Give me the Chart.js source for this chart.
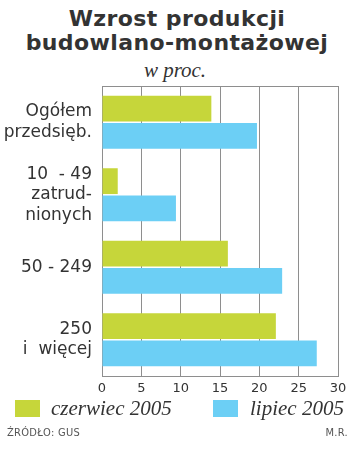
<!DOCTYPE html>
<html>
<head>
<meta charset="utf-8">
<script src="https://cdn.jsdelivr.net/npm/chart.js@4/dist/chart.umd.min.js"></script>
<style>
    body { margin: 0; background: #fff; }
    .wrap { position: relative; width: 350px; height: 457px; overflow: hidden; }
    .title { position: absolute; left: 2px; top: 7px; width: 350px; text-align: center;
        font-family: "DejaVu Sans", sans-serif; font-weight: bold; font-size: 22px; line-height: 24px;
        letter-spacing: 0.4px; color: #333; }
    .unit { position: absolute; left: 0; top: 58px; width: 350px; text-align: center;
        font-family: "Liberation Serif", serif; font-style: italic; font-size: 21px; color: #333; }
    #chart-box { position: absolute; left: 0; top: 80px; width: 350px; height: 320px; }
    .legend-box { position: absolute; width: 25px; height: 17px; top: 400px; }
    .legend-text { position: absolute; top: 396px; font-family: "Liberation Serif", serif;
        font-style: italic; font-size: 21px; color: #333; }
    .foot { position: absolute; top: 426px; font-family: "DejaVu Sans Condensed", "DejaVu Sans", sans-serif;
        font-size: 11px; letter-spacing: 0.3px; color: #555; }
</style>
</head>
<body>
<div class="wrap">
    <div class="title">Wzrost produkcji<br>budowlano-montażowej</div>
    <div class="unit">w proc.</div>
    <div id="chart-box"><canvas id="chart"></canvas></div>
    <div class="legend-box" style="left:15px;background:#c6d63a"></div>
    <div class="legend-text" style="left:51px">czerwiec 2005</div>
    <div class="legend-box" style="left:213px;background:#6ccff5"></div>
    <div class="legend-text" style="left:250px">lipiec 2005</div>
    <div class="foot" style="left:7px">ŹRÓDŁO: GUS</div>
    <div class="foot" style="right:2px">M.R.</div>
</div>
<script>
const categories = [['Ogółem', 'przedsięb.'], ['10  - 49', 'zatrud-', 'nionych'], '50 - 249', ['250', 'i  więcej']];
const czerwiec = [13.9, 2.0, 16.0, 22.1];
const lipiec = [19.7, 9.4, 22.9, 27.3];
const xTicks = [0, 5, 10, 15, 20, 25, 30];

const gridColor = '#8e8e8e';

// ramka na górze wykresu
const topBorder = {
    id: 'topBorder',
    afterDraw(chart) {
        const a = chart.chartArea;
        const ctx = chart.ctx;
        ctx.save();
        ctx.strokeStyle = gridColor;
        ctx.lineWidth = 1;
        ctx.beginPath();
        ctx.moveTo(a.left, a.top + 0.5);
        ctx.lineTo(a.right, a.top + 0.5);
        ctx.stroke();
        ctx.restore();
    }
};

new Chart(document.getElementById('chart'), {
    type: 'bar',
    data: {
        labels: categories,
        datasets: [{
            label: 'czerwiec 2005',
            data: czerwiec,
            backgroundColor: '#c6d63a',
            categoryPercentage: 0.75,
            barPercentage: 0.95
        }, {
            label: 'lipiec 2005',
            data: lipiec,
            backgroundColor: '#6ccff5',
            categoryPercentage: 0.75,
            barPercentage: 0.95
        }]
    },
    options: {
        indexAxis: 'y',
        responsive: true,
        maintainAspectRatio: false,
        animation: false,
        layout: { padding: { top: 6, right: 12, bottom: 0, left: 0 } },
        plugins: { legend: { display: false }, tooltip: { enabled: false } },
        scales: {
            x: {
                min: xTicks[0],
                max: xTicks[xTicks.length - 1],
                afterBuildTicks: (scale) => { scale.ticks = xTicks.map(v => ({ value: v })); },
                afterFit: (scale) => { scale.height = 24; scale.paddingLeft = 0; scale.paddingRight = 0; },
                grid: { color: gridColor, drawTicks: false },
                border: { color: gridColor },
                ticks: { color: '#333', padding: 5, font: { family: 'DejaVu Sans', size: 13 } }
            },
            y: {
                afterFit: (scale) => { scale.width = 102; scale.paddingTop = 0; scale.paddingBottom = 0; },
                grid: { display: false },
                border: { color: gridColor },
                ticks: { color: '#333', padding: 2, font: { family: 'DejaVu Sans', size: 17 } }
            }
        }
    },
    plugins: [topBorder]
});
</script>
</body>
</html>
